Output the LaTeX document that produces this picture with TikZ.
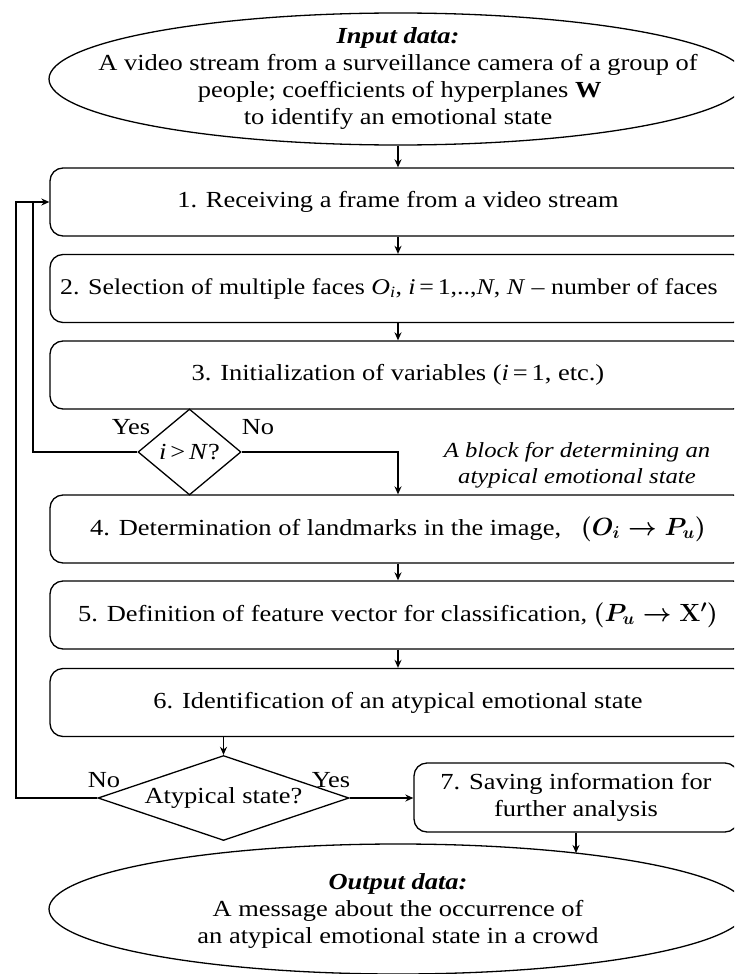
\documentclass[tikz,border=0pt]{standalone}
\usepackage{amsmath}
\usepackage{fontspec}
\setmainfont[FakeStretch=1.15]{Liberation Serif}
\usetikzlibrary{shapes.geometric,arrows.meta}
\tikzset{
  ln/.style={line width=1.3pt},
  arr/.style={line width=1.3pt,-{Stealth[length=8pt,width=7pt]}},
  proc/.style={draw,line width=1.3pt,rounded corners=13pt,minimum width=696pt,minimum height=68pt,inner sep=0pt,align=center},
  ellbox/.style={draw,line width=1.3pt,ellipse,minimum width=698pt,minimum height=132pt,inner sep=0pt},
  dia/.style={draw,line width=1.3pt,diamond,inner sep=0pt},
  lbl/.style={inner sep=0pt},
}
\begin{document}
\begin{tikzpicture}[x=1pt,y=-1pt,font=\fontsize{23}{27}\selectfont]
\useasboundingbox (0,0) rectangle (734,974);
\clip (0,0) rectangle (734,974);

% input ellipse
\node[ellbox] (in) at (398,79) {};
\node[lbl,align=center] (intext) at (398,79) {\textbf{\textit{Input data:}}\\A video stream from a surveillance camera of a group of\\people; coefficients of hyperplanes $\mathbf{W}$\\to identify an emotional state};

% process boxes
\node[proc] (b1) at (398,202) {1. Receiving a frame from a video stream};
\node[proc] (b2) at (398,288.5) {{\fontsize{22.5}{27}\selectfont 2. Selection of multiple faces \textit{O}\textsubscript{\textit{i}}, \textit{i}\,=\,1,..,\textit{N}, \textit{N} -- number of faces}\hspace{18pt}};
\node[proc] (b3) at (398,375) {3. Initialization of variables (\textit{i}\,=\,1, etc.)};
\node[dia,minimum width=103pt,minimum height=86pt,shape aspect=1.2] (d1) at (189.5,452) {\textit{i}\,>\,\textit{N}?};
\node[proc] (b4) at (398,529) {4. Determination of landmarks in the image,~~~$\boldsymbol{(O_i\to P_u)}$};
\node[proc] (b5) at (398,615) {5. Definition of feature vector for classification,~$\boldsymbol{(P_u\to \mathbf{X}')}$};
\node[proc] (b6) at (398,702.5) {6. Identification of an atypical emotional state};
\node[dia,minimum width=251pt,minimum height=85pt,shape aspect=2.95] (d2) at (223.5,798) {Atypical state?};
\node[proc,minimum width=324pt,minimum height=69pt] (b7) at (576,797.5) {7. Saving information for\\further analysis};

% output ellipse
\node[ellbox,minimum height=130pt] (out) at (398,909) {};
\node[lbl,align=center] (outtext) at (398,911) {\textbf{\textit{Output data:}}\\A message about the occurrence of\\an atypical emotional state in a crowd};

% block annotation
\node[lbl,align=center,font=\fontsize{21.5}{26}\itshape] (note) at (577,465) {A block for determining an\\atypical emotional state};

% labels
\node[lbl] (yes1) at (131,427) {Yes};
\node[lbl] (no1) at (258,427) {No};
\node[lbl] (no2) at (104,780) {No};
\node[lbl] (yes2) at (331,780) {Yes};

% connectors
\coordinate (outer) at (16,202);
\coordinate (inner) at (33,202);
\coordinate (outtop) at (576,853);
\draw[arr] (in.south) -- (b1.north);
\draw[arr] (b1.south) -- (b2.north);
\draw[arr] (b2.south) -- (b3.north);
\draw[arr] (d1.east) -| (b4.north);
\draw[ln] (d1.west) -| (inner);
\draw[arr] (d2.west) -| (outer) -- (b1.west);
\draw[arr] (b4.south) -- (b5.north);
\draw[arr] (b5.south) -- (b6.north);
\draw[arr] (b6.south -| d2.north) -- (d2.north);
\draw[arr] (d2.east) -- (d2.east -| b7.west);
\draw[arr] (b7.south) -- (outtop);
\end{tikzpicture}
\end{document}
